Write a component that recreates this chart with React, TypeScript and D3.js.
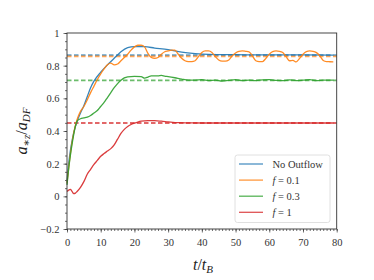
import React, { useEffect, useRef } from 'react';
import * as d3 from 'd3';

// series data
const seriesNames = ['No Outflow', 'f = 0.1', 'f = 0.3', 'f = 1'];
const seriesColors = ['#1f77b4', '#ff7f0e', '#2ca02c', '#d62728'];

const tNoOutflow = [0, 0.5, 1, 1.5, 2, 3, 4, 5, 6, 7, 8, 10, 12, 14, 16, 18, 20, 23, 26, 30, 34, 38, 42, 50, 60, 70, 79];
const vNoOutflow = [0.09, 0.2, 0.28, 0.34, 0.39, 0.46, 0.51, 0.555, 0.61, 0.665, 0.705, 0.76, 0.805, 0.845, 0.885, 0.91, 0.917, 0.916, 0.908, 0.898, 0.883, 0.874, 0.869, 0.867, 0.866, 0.866, 0.865];

const tF01 = [0, 1, 2, 3, 4, 5, 6, 7, 8, 9, 10, 11, 12, 13, 14, 15, 16, 17, 18, 19, 20, 21, 22, 23, 24, 25, 26, 27, 28, 29, 30, 31, 32, 33, 34, 35, 36, 37, 38, 39, 40, 41, 42, 43, 44, 45, 46, 47, 48, 49, 50, 51, 52, 53, 54, 55, 56, 57, 58, 59, 60, 61, 62, 63, 64, 65, 66, 67, 68, 69, 70, 71, 72, 73, 74, 75, 76, 77, 78, 79];
const vF01 = [0.08, 0.26, 0.39, 0.47, 0.52, 0.55, 0.59, 0.635, 0.675, 0.715, 0.75, 0.78, 0.805, 0.815, 0.805, 0.81, 0.83, 0.85, 0.87, 0.895, 0.915, 0.925, 0.925, 0.915, 0.875, 0.85, 0.845, 0.85, 0.87, 0.885, 0.89, 0.895, 0.895, 0.87, 0.845, 0.83, 0.825, 0.825, 0.83, 0.855, 0.88, 0.89, 0.89, 0.88, 0.855, 0.835, 0.828, 0.828, 0.835, 0.86, 0.878, 0.888, 0.89, 0.888, 0.885, 0.86, 0.83, 0.825, 0.825, 0.845, 0.87, 0.886, 0.89, 0.888, 0.88, 0.855, 0.83, 0.832, 0.823, 0.845, 0.87, 0.886, 0.89, 0.888, 0.88, 0.86, 0.832, 0.825, 0.824, 0.823];

const tF03 = [0, 0.5, 1, 1.5, 2, 2.5, 3, 4, 5, 6, 7, 8, 9, 10, 11, 12, 13, 14, 15, 16, 17, 18, 20, 22, 23, 24, 25, 27, 28, 29, 30, 32, 34, 36, 38, 40, 42, 44, 46, 48, 50, 52, 54, 56, 58, 60, 62, 64, 66, 68, 70, 72, 74, 76, 78, 79];
const vF03 = [0.07, 0.17, 0.25, 0.32, 0.38, 0.43, 0.46, 0.475, 0.48, 0.485, 0.495, 0.51, 0.525, 0.55, 0.575, 0.605, 0.635, 0.665, 0.69, 0.71, 0.725, 0.732, 0.735, 0.733, 0.724, 0.73, 0.738, 0.737, 0.74, 0.736, 0.733, 0.726, 0.718, 0.712, 0.712, 0.714, 0.709, 0.712, 0.706, 0.71, 0.714, 0.708, 0.712, 0.709, 0.713, 0.714, 0.71, 0.708, 0.713, 0.709, 0.711, 0.714, 0.708, 0.711, 0.712, 0.711];

const tF1 = [0, 0.5, 1, 1.5, 2, 2.5, 3, 4, 5, 6, 7, 8, 9, 10, 11, 12, 13, 14, 15, 16, 17, 18, 19, 20, 21, 22, 24, 26, 28, 30, 33, 36, 40, 50, 60, 70, 79];
const vF1 = [0.03, 0.038, 0.042, 0.03, 0.017, 0.02, 0.03, 0.055, 0.09, 0.135, 0.165, 0.195, 0.22, 0.245, 0.262, 0.277, 0.292, 0.315, 0.35, 0.385, 0.41, 0.428, 0.44, 0.448, 0.455, 0.46, 0.463, 0.463, 0.46, 0.456, 0.451, 0.45, 0.449, 0.449, 0.449, 0.449, 0.449];

// final (asymptotic) values shown as dashed lines
const asymptotes = [0.865, 0.857, 0.71, 0.449];

const xTicks = [0, 10, 20, 30, 40, 50, 60, 70, 80];
const yTicks = [-0.2, 0, 0.2, 0.4, 0.6, 0.8, 1];

const App = () => {
  const svgRef = useRef(null);

  useEffect(() => {
    const width = 374, height = 280;
    const m = { left: 67, right: 37.3, top: 33, bottom: 51 };
    const serif = 'Liberation Serif, DejaVu Serif, serif';

    const svg = d3.select(svgRef.current);
    svg.selectAll('*').remove();

    const x = d3.scaleLinear().domain([0, 80]).range([m.left, width - m.right]);
    const y = d3.scaleLinear().domain([-0.2, 1]).range([height - m.bottom, m.top]);

    // 축 눈금
    const axisColor = '#333';
    const xAxis = d3.axisBottom(x).tickValues(xTicks).tickSize(3.5).tickPadding(6).tickFormat(d3.format('d'));
    const xMinor = d3.axisBottom(x).tickValues(d3.range(0, 81, 1)).tickSize(2).tickFormat(() => '');
    const yAxis = d3.axisLeft(y).tickValues(yTicks).tickSize(3.5).tickPadding(4).tickFormat(d => d3.format('~g')(d));
    const yMinor = d3.axisLeft(y).tickValues(d3.range(-0.2, 1.001, 0.05)).tickSize(2).tickFormat(() => '');

    const gx = svg.append('g').attr('transform', `translate(0,${height - m.bottom})`);
    gx.append('g').call(xMinor);
    gx.append('g').call(xAxis);
    const gy = svg.append('g').attr('transform', `translate(${m.left},0)`);
    gy.append('g').call(yMinor);
    gy.append('g').call(yAxis);

    svg.selectAll('.domain').remove();
    svg.selectAll('g').attr('font-family', serif);
    svg.selectAll('.tick line').attr('stroke', axisColor).attr('stroke-width', 0.7);
    svg.selectAll('.tick text')
      .attr('fill', '#333')
      .attr('font-family', serif)
      .attr('font-size', 10.5);

    // 데이터 선
    const line = d3.line().x(d => x(d[0])).y(d => y(d[1])).curve(d3.curveMonotoneX);

    const plot = svg.append('g');
    const allT = [tNoOutflow, tF01, tF03, tF1];
    const allV = [vNoOutflow, vF01, vF03, vF1];

    asymptotes.forEach((a, i) => {
      plot.append('line')
        .attr('x1', x(0)).attr('x2', x(80))
        .attr('y1', y(a)).attr('y2', y(a))
        .attr('stroke', seriesColors[i])
        .attr('stroke-opacity', 0.7)
        .attr('stroke-width', 1.8)
        .attr('stroke-dasharray', '4.5,2.5');
    });

    allT.forEach((ts, i) => {
      const pts = ts.map((t, j) => [t, allV[i][j]]);
      plot.append('path')
        .attr('d', line(pts))
        .attr('fill', 'none')
        .attr('stroke', seriesColors[i])
        .attr('stroke-opacity', 0.9)
        .attr('stroke-width', 1.3);
    });

    // 테두리
    svg.append('rect')
      .attr('x', m.left).attr('y', m.top)
      .attr('width', width - m.left - m.right)
      .attr('height', height - m.top - m.bottom)
      .attr('fill', 'none')
      .attr('stroke', axisColor)
      .attr('stroke-width', 0.9);

    // 범례
    const lg = svg.append('g').attr('font-family', serif);
    lg.append('rect')
      .attr('x', 235).attr('y', 155).attr('width', 95).attr('height', 67.5)
      .attr('rx', 2.5)
      .attr('fill', 'white').attr('fill-opacity', 0.85)
      .attr('stroke', '#d8d8d8').attr('stroke-width', 0.8);
    seriesNames.forEach((name, i) => {
      const ly = 164 + i * 16.1;
      lg.append('line')
        .attr('x1', 239).attr('x2', 263)
        .attr('y1', ly).attr('y2', ly)
        .attr('stroke', seriesColors[i]).attr('stroke-opacity', 0.8).attr('stroke-width', 1.3);
      const tx = lg.append('text')
        .attr('x', 272.5).attr('y', ly + 3.5)
        .attr('fill', '#333')
        .attr('font-family', serif)
        .attr('font-size', 10.5);
      if (i === 0) {
        tx.text(name);
      } else {
        const parts = name.split(' = ');
        tx.append('tspan').attr('font-style', 'italic').text(parts[0]);
        tx.append('tspan').text(' = ' + parts[1]);
      }
    });

    // 축 라벨
    const xl = svg.append('text')
      .attr('x', 203).attr('y', 270)
      .attr('text-anchor', 'middle')
      .attr('fill', '#222')
      .attr('font-family', serif)
      .attr('font-size', 16)
      .attr('font-style', 'italic');
    xl.append('tspan').text('t');
    xl.append('tspan').attr('font-style', 'normal').text('/');
    xl.append('tspan').text('t');
    xl.append('tspan').attr('dy', 3).attr('font-size', 11).text('B');

    const yl = svg.append('text')
      .attr('transform', `translate(27,131) rotate(-90)`)
      .attr('text-anchor', 'middle')
      .attr('fill', '#222')
      .attr('font-family', serif)
      .attr('font-size', 16)
      .attr('font-style', 'italic');
    yl.append('tspan').text('a');
    yl.append('tspan').attr('dy', 3).attr('font-size', 11).text('∗z');
    yl.append('tspan').attr('dy', -3).attr('font-style', 'normal').text('/');
    yl.append('tspan').text('a');
    yl.append('tspan').attr('dy', 3).attr('font-size', 11).text('DF');
  }, []);

  return (
    <svg
      ref={svgRef}
      width={374}
      height={280}
      style={{ position: 'absolute', left: 0, top: 0, background: 'white' }}
    />
  );
};

export default App;
